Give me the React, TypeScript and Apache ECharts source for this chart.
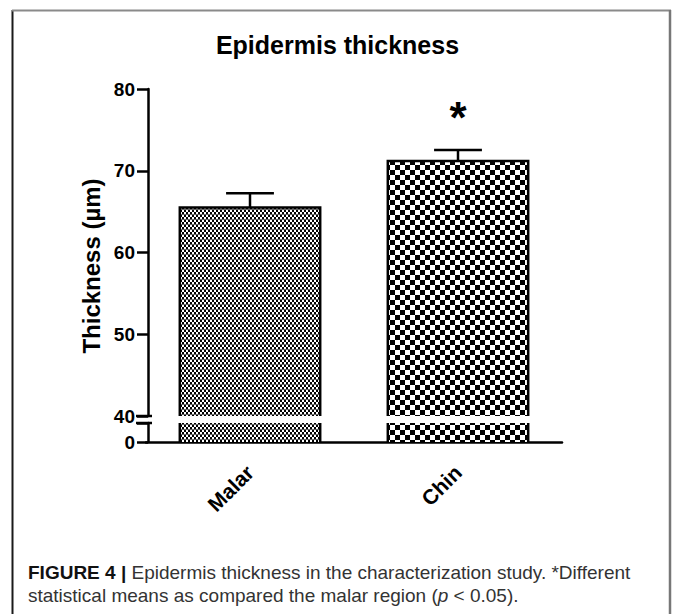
import React, { useEffect, useRef } from 'react';
import * as echarts from 'echarts';

const categories = ['Malar', 'Chin'];
const means = [65.5, 71.2];
const sds = [1.75, 1.35];
const significance = ['', '*'];
const upperRange = [40, 80];
const lowerRange = [0, 40];
const tickStep = 10;

const titleText = 'Epidermis thickness';
const yAxisTitle = 'Thickness (µm)';
const captionLine1 = '{b|FIGURE 4 |} Epidermis thickness in the characterization study. *Different';
const captionLine2 = 'statistical means as compared the malar region ({i|p} < 0.05).';

const FONT = '"Liberation Sans", Arial, Helvetica, sans-serif';

function makeTile(kind: string) {
  const c = document.createElement('canvas');
  if (kind === 'fine') {
    c.width = 4;
    c.height = 5;
  } else {
    c.width = 10;
    c.height = 10;
  }
  const ctx = c.getContext('2d') as CanvasRenderingContext2D;
  ctx.fillStyle = '#ffffff';
  ctx.fillRect(0, 0, c.width, c.height);
  ctx.fillStyle = '#000000';
  if (kind === 'fine') {
    ctx.fillRect(0, 0, 2, 2);
    ctx.fillRect(2, 2, 2, 2);
    ctx.fillStyle = '#666666';
    ctx.fillRect(0, 4, 4, 1);
  } else {
    ctx.fillRect(0, 0, 5, 5);
    ctx.fillRect(5, 5, 5, 5);
  }
  return c;
}

export default function App() {
  const ref = useRef<HTMLDivElement>(null);
  useEffect(() => {
    document.body.style.margin = '0';
    if (!ref.current) return;
    const chart = echarts.init(ref.current, undefined, { renderer: 'svg' });
    const tiles = [makeTile('fine'), makeTile('coarse')];
    const patterns = tiles.map((t) => ({
      image: t,
      repeat: 'repeat',
      imageWidth: t.width,
      imageHeight: t.height,
    }));
    const LW = 2.5;
    const BAR_FRAC = 0.675;

    const barRenderer = (lo: number, hi: number) => (params: any, api: any) => {
      const x = api.value(0);
      const v = api.value(1);
      const topV = Math.min(v, hi);
      const b = api.coord([x, lo]);
      const t = api.coord([x, topV]);
      const w = api.size([1, 0])[0] * BAR_FRAC;
      const left = b[0] - w / 2;
      const right = b[0] + w / 2;
      const children: any[] = [
        {
          type: 'rect',
          shape: { x: left, y: t[1], width: w, height: b[1] - t[1] },
          style: { fill: patterns[params.dataIndex] as any },
        },
      ];
      if (v <= hi) {
        children.push({
          type: 'polyline',
          shape: {
            points: [
              [left, b[1]],
              [left, t[1]],
              [right, t[1]],
              [right, b[1]],
            ],
          },
          style: { stroke: '#000', lineWidth: LW, fill: 'none', lineJoin: 'miter' },
        });
      } else {
        children.push({
          type: 'line',
          shape: { x1: left, y1: b[1], x2: left, y2: t[1] },
          style: { stroke: '#000', lineWidth: LW },
        });
        children.push({
          type: 'line',
          shape: { x1: right, y1: b[1], x2: right, y2: t[1] },
          style: { stroke: '#000', lineWidth: LW },
        });
      }
      return { type: 'group', children };
    };

    const errRenderer = (params: any, api: any) => {
      const x = api.value(0);
      const m = api.value(1);
      const s = api.value(2);
      const p0 = api.coord([x, m]);
      const p1 = api.coord([x, m + s]);
      const half = api.size([1, 0])[0] * 0.115;
      const children: any[] = [
        {
          type: 'line',
          shape: { x1: p0[0], y1: p0[1], x2: p1[0], y2: p1[1] },
          style: { stroke: '#000', lineWidth: LW },
        },
        {
          type: 'line',
          shape: { x1: p1[0] - half, y1: p1[1], x2: p1[0] + half, y2: p1[1] },
          style: { stroke: '#000', lineWidth: LW },
        },
      ];
      const sig = significance[params.dataIndex];
      if (sig) {
        children.push({
          type: 'text',
          x: p1[0],
          y: p1[1] - 32,
          style: {
            text: sig,
            fontSize: 44,
            fontWeight: 'bold',
            fontFamily: FONT,
            fill: '#000',
            align: 'center',
            verticalAlign: 'middle',
          },
        });
      }
      return { type: 'group', children };
    };

    const barData = categories.map((_, i) => [i, means[i]]);
    const errData = categories.map((_, i) => [i, means[i], sds[i]]);

    const axisLabelStyle = {
      fontSize: 19,
      fontWeight: 'bold' as const,
      fontFamily: FONT,
      color: '#000',
    };

    chart.setOption({
      animation: false,
      backgroundColor: '#ffffff',
      title: {
        text: titleText,
        left: 'center',
        top: 27,
        textStyle: { fontSize: 25, fontWeight: 'bold', fontFamily: FONT, color: '#000' },
      },
      grid: [
        { left: 146, top: 89, width: 416, height: 327 },
        { left: 146, top: 423, width: 416, height: 19 },
      ],
      xAxis: [
        { type: 'category', gridIndex: 0, data: categories, show: false },
        {
          type: 'category',
          gridIndex: 1,
          data: categories,
          axisLine: { lineStyle: { color: '#000', width: LW } },
          axisTick: { alignWithLabel: true, length: 7, lineStyle: { color: '#000', width: LW } },
          axisLabel: { ...axisLabelStyle, fontSize: 21, rotate: 45, margin: 27 },
        },
      ],
      yAxis: [
        {
          type: 'value',
          gridIndex: 0,
          min: upperRange[0],
          max: upperRange[1],
          interval: tickStep,
          offset: -2,
          axisLine: { show: true, lineStyle: { color: '#000', width: LW } },
          axisTick: { show: true, length: 11, lineStyle: { color: '#000', width: LW } },
          axisLabel: { ...axisLabelStyle, margin: 13 },
          splitLine: { show: false },
        },
        {
          type: 'value',
          gridIndex: 1,
          min: lowerRange[0],
          max: lowerRange[1],
          interval: lowerRange[1] - lowerRange[0],
          offset: -2,
          axisLine: { show: true, lineStyle: { color: '#000', width: LW } },
          axisTick: { show: true, length: 11, lineStyle: { color: '#000', width: LW } },
          axisLabel: {
            ...axisLabelStyle,
            margin: 13,
            formatter: (v: number) => (v === lowerRange[0] ? String(v) : ''),
          },
          splitLine: { show: false },
        },
      ],
      series: [
        {
          type: 'custom',
          xAxisIndex: 0,
          yAxisIndex: 0,
          data: barData,
          encode: { x: 0, y: 1 },
          renderItem: barRenderer(upperRange[0], upperRange[1]),
          clip: false,
        },
        {
          type: 'custom',
          xAxisIndex: 1,
          yAxisIndex: 1,
          data: barData,
          encode: { x: 0, y: 1 },
          renderItem: barRenderer(lowerRange[0], lowerRange[1]),
          clip: false,
        },
        {
          type: 'custom',
          xAxisIndex: 0,
          yAxisIndex: 0,
          data: errData,
          encode: { x: 0, y: [1, 2] },
          renderItem: errRenderer,
          clip: false,
          z: 5,
        },
      ],
    });

    const yUp = chart.convertToPixel({ yAxisIndex: 0 }, upperRange[0]) as number;
    const yLo = chart.convertToPixel({ yAxisIndex: 1 }, lowerRange[1]) as number;
    const axisX = 148;
    chart.setOption({
      graphic: [
        {
          type: 'line',
          shape: { x1: axisX - 12, y1: yUp, x2: axisX + 4, y2: yUp },
          style: { stroke: '#000', lineWidth: LW },
        },
        {
          type: 'line',
          shape: { x1: axisX - 12, y1: yLo, x2: axisX + 4, y2: yLo },
          style: { stroke: '#000', lineWidth: LW },
        },
        {
          type: 'text',
          x: 91,
          y: 266,
          rotation: Math.PI / 2,
          style: {
            text: yAxisTitle,
            fontSize: 24,
            fontWeight: 'bold',
            fontFamily: FONT,
            fill: '#000',
            align: 'center',
            verticalAlign: 'middle',
          },
        },
        {
          type: 'text',
          left: 28,
          top: 561,
          style: {
            text: captionLine1 + '\n' + captionLine2,
            fontSize: 19,
            lineHeight: 23,
            fontFamily: FONT,
            fill: '#333',
            rich: {
              b: { fontSize: 19, fontWeight: 'bold', fill: '#111', fontFamily: FONT, lineHeight: 23 },
              i: { fontSize: 19, fontStyle: 'italic', fill: '#333', fontFamily: FONT, lineHeight: 23 },
            },
          },
        },
        {
          type: 'line',
          shape: { x1: 12.5, y1: 10, x2: 12.5, y2: 614 },
          style: { stroke: '#1a1a1a', lineWidth: 2 },
        },
        {
          type: 'line',
          shape: { x1: 12, y1: 10.5, x2: 671, y2: 10.5 },
          style: { stroke: '#8a8a8a', lineWidth: 2 },
        },
        {
          type: 'line',
          shape: { x1: 670, y1: 10, x2: 670, y2: 614 },
          style: { stroke: '#777777', lineWidth: 2.5 },
        },
      ],
    });

    return () => chart.dispose();
  }, []);
  return <div ref={ref} style={{ width: 675, height: 614 }} />;
}
